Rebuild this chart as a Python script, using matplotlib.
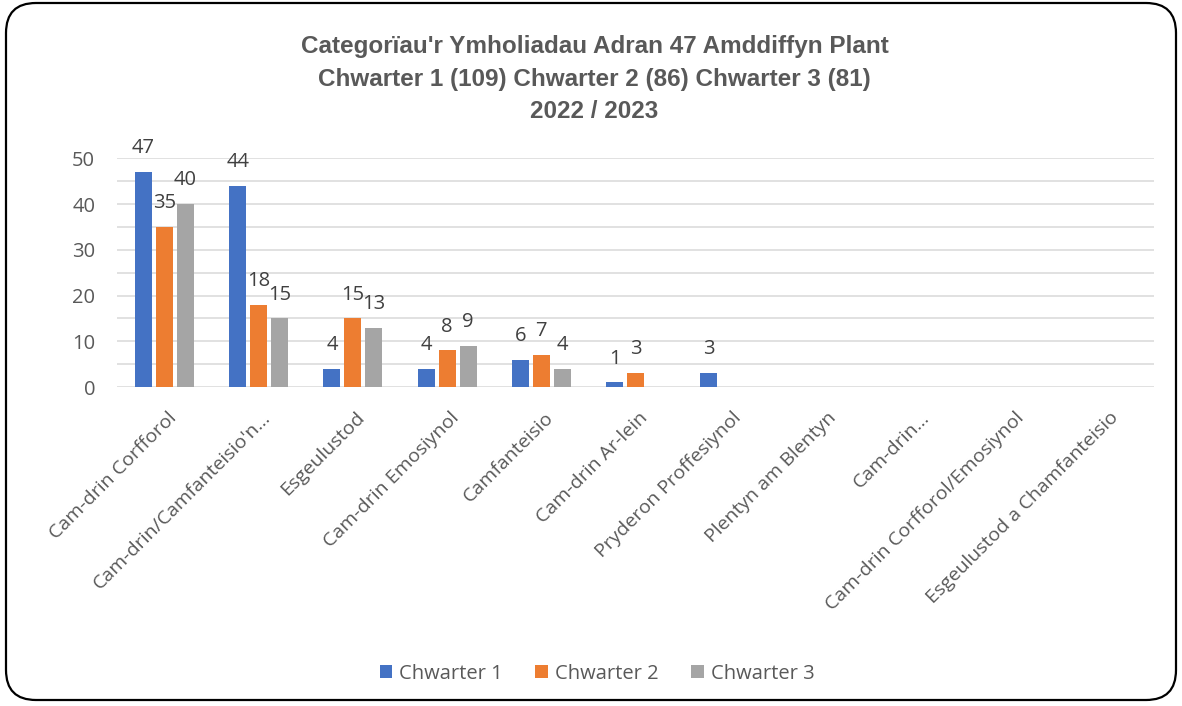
import numpy as np
import matplotlib
matplotlib.use("Agg")
import matplotlib.pyplot as plt
from matplotlib.patches import FancyBboxPatch
import matplotlib.transforms as mtransforms

# data
categories = [
    "Cam-drin Corfforol",
    "Cam-drin/Camfanteisio'n…",
    "Esgeulustod",
    "Cam-drin Emosiynol",
    "Camfanteisio",
    "Cam-drin Ar-lein",
    "Pryderon Proffesiynol",
    "Plentyn am Blentyn",
    "Cam-drin…",
    "Cam-drin Corfforol/Emosiynol",
    "Esgeulustod a Chamfanteisio",
]
nan = np.nan
chwarter1 = [47, 44, 4, 4, 6, 1, 3, nan, nan, nan, nan]
chwarter2 = [35, 18, 15, 8, 7, 3, nan, nan, nan, nan, nan]
chwarter3 = [40, 15, 13, 9, 4, nan, nan, nan, nan, nan, nan]
series_names = ["Chwarter 1", "Chwarter 2", "Chwarter 3"]
colors = ["#4472C4", "#ED7D31", "#A5A5A5"]
title = ("Categorïau'r Ymholiadau Adran 47 Amddiffyn Plant\n"
         "Chwarter 1 (109) Chwarter 2 (86) Chwarter 3 (81)\n"
         "2022 / 2023")

plt.rcParams['font.family'] = ['Open Sans', 'DejaVu Sans']

fig = plt.figure(figsize=(11.82, 7.06), dpi=100)
ax = fig.add_axes([0.0993, 0.4518, 0.8767, 0.3237])

x = np.arange(len(categories))
bw = 0.1805
step = 0.223
for i, (vals, name, c) in enumerate(zip([chwarter1, chwarter2, chwarter3], series_names, colors)):
    bars = ax.bar(x + (i - 1) * step, vals, width=bw, color=c, label=name, zorder=3)
    labels = ["" if np.isnan(v) else str(int(v)) for v in vals]
    ax.bar_label(bars, labels=labels, padding=10, fontsize=14.5, color="#404040")

ax.set_xlim(-0.5, len(categories) - 0.5)
ax.set_ylim(0, 50)
ax.set_yticks(range(0, 51, 10))
ax.set_yticks(range(5, 50, 10), minor=True)
ax.grid(axis='y', which='both', color="#D9D9D9", lw=1.1, zorder=0)
ax.tick_params(axis='y', which='both', length=0, pad=16, labelsize=14.5, labelcolor="#595959")
for s in ax.spines.values():
    s.set_visible(False)

ax.set_xticks(x)
ax.set_xticklabels(categories, rotation=45, ha='right', va='center',
                   rotation_mode='anchor', fontsize=14, color="#595959")
ax.tick_params(axis='x', length=0, pad=20)
shift = mtransforms.ScaledTranslation(9 / 100, 0, fig.dpi_scale_trans)
for lab in ax.get_xticklabels():
    lab.set_transform(lab.get_transform() + shift)

fig.text(0.503, 0.888, title, ha='center', va='center', fontsize=17.5, fontweight='bold',
         color="#595959", linespacing=1.52,
         family=['Liberation Sans Narrow', 'Liberation Sans'])

fig.legend(loc='center', bbox_to_anchor=(0.505, 0.046), ncol=3, frameon=False,
           fontsize=14.5, labelcolor="#595959", handlelength=0.63, handleheight=0.63,
           handletextpad=0.35, columnspacing=1.6)

border = FancyBboxPatch((6, 6), 1170, 697, boxstyle="round,pad=0,rounding_size=30",
                        transform=None, fill=False, edgecolor="black", lw=1.6)
fig.patches.append(border)

fig.savefig("out.png", dpi=100, facecolor="white")
